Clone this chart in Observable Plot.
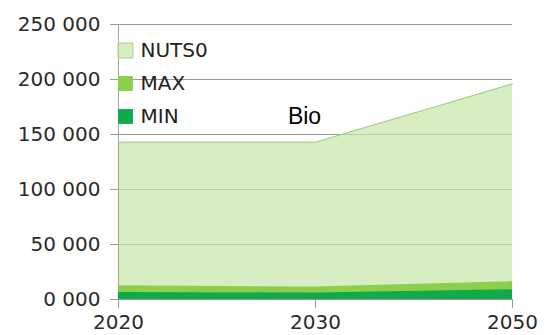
<!DOCTYPE html>
<html>
<head>
<meta charset="utf-8">
<script src="https://cdn.jsdelivr.net/npm/d3@7"></script>
<script src="https://cdn.jsdelivr.net/npm/@observablehq/plot@0.6"></script>
<style>
  html, body { margin: 0; padding: 0; background: #fff; }
  #chart { width: 549px; height: 335px; }
</style>
</head>
<body>
<div id="chart"></div>
<script>
const years = ["2020", "2030", "2050"];
const nuts0Values = [143000, 143000, 196000];
const maxValues = [12500, 11300, 16300];
const minValues = [6300, 5900, 8800];
const yTicks = [0, 50000, 100000, 150000, 200000, 250000];
const yTickLabels = ["0 000", "50 000", "100 000", "150 000", "200 000", "250 000"];
const seriesNames = ["NUTS0", "MAX", "MIN"];
const seriesColors = ["#c6e5a8", "#8ccf4d", "#10aa4a"];
const title = "Bio";

const toRows = (vals) => years.map((y, i) => ({year: y, value: vals[i]}));
const nuts0 = toRows(nuts0Values);
const maxRows = toRows(maxValues);
const minRows = toRows(minValues);

const legendMarks = seriesNames.flatMap((name, i) => [
  Plot.dot([0], {
    frameAnchor: "top-left",
    dx: 7, dy: 26 + i * 33,
    symbol: "square", r: 8.4,
    fill: seriesColors[i],
    fillOpacity: i === 0 ? 0.7 : 1,
    stroke: i === 0 ? "#a8cf88" : "none",
    strokeWidth: 1
  }),
  Plot.text([name], {
    frameAnchor: "top-left",
    dx: 22, dy: 26 + i * 33,
    text: d => d,
    textAnchor: "start",
    lineAnchor: "middle",
    fontSize: 20,
    fontFamily: "DejaVu Sans",
    fill: "#222"
  })
]);

const chart = Plot.plot({
  width: 549,
  height: 335,
  marginLeft: 118,
  marginRight: 37,
  marginTop: 24,
  marginBottom: 36,
  style: {fontFamily: "DejaVu Sans", fontSize: "20px", color: "#333", background: "#fff"},
  x: {type: "point", domain: years, padding: 0, label: null},
  y: {domain: [0, 250000], label: null},
  marks: [
    Plot.ruleY(yTicks, {stroke: "#999", strokeWidth: 1, insetLeft: -8}),
    Plot.areaY(nuts0, {x: "year", y: "value", fill: seriesColors[0], fillOpacity: 0.7}),
    Plot.lineY(nuts0, {x: "year", y: "value", stroke: "#a3cc82", strokeWidth: 1}),
    Plot.ruleX([years[0]], {y1: 0, y2: 250000, stroke: "#9aa890", strokeWidth: 1}),
    Plot.areaY(maxRows, {x: "year", y: "value", fill: seriesColors[1]}),
    Plot.areaY(minRows, {x: "year", y: "value", fill: seriesColors[2]}),
    Plot.axisY({
      ticks: yTicks,
      tickFormat: (d) => yTickLabels[yTicks.indexOf(d)],
      tickSize: 0,
      tickPadding: 18,
      fontSize: 20,
      fill: "#2a2a2a"
    }),
    Plot.axisX({
      tickSize: 9,
      tickPadding: 6,
      fontSize: 20,
      stroke: "#999",
      fill: "#2a2a2a"
    }),
    Plot.text([title], {
      frameAnchor: "top-left",
      dx: 186, dy: 92,
      text: d => d,
      textAnchor: "middle",
      lineAnchor: "middle",
      fontSize: 23,
      fontFamily: "Liberation Sans",
      fill: "#000"
    }),
    ...legendMarks
  ]
});
document.getElementById("chart").appendChild(chart);
</script>
</body>
</html>
